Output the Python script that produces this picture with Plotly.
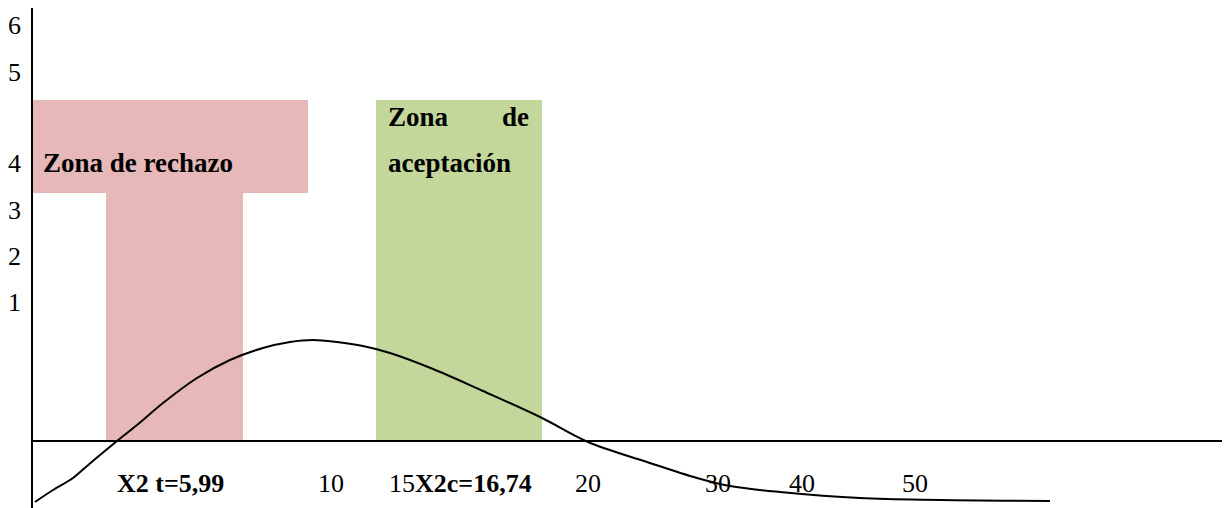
import plotly.graph_objects as go

# ---- data (drawing units: origin at the axes' crossing) ----
curve_x = [3, 21, 41, 55, 68, 85, 105, 131, 165, 198, 231, 258, 281, 305, 331, 358,
           401, 451, 510, 556, 615, 665, 698, 748, 828, 1018]
curve_y = [-61, -49, -37, -25, -14, 0, 16, 38, 63, 81, 93, 99, 101, 99, 95, 88,
           72, 50, 23, -1, -21, -37, -45, -51, -57, -60]

y_tick_text = ["1", "2", "3", "4", "5", "6"]
y_tick_pos = [139, 185, 231, 278, 369, 416]

x_label_text = ["<b>X2 t=5,99</b>", "10", "15<b>X2c=16,74</b>", "20", "30", "40", "50"]
x_label_pos = [138, 299, 355, 556, 686, 770, 883]
x_label_anchor = ["center", "center", "left", "center", "center", "center", "center"]

# rejection zone (T shape) and acceptance zone: [x0, x1, y0, y1]
rechazo_top = [1, 276, 248, 341]
rechazo_stem = [74, 211, 0, 248]
aceptacion = [344, 510, 0, 341]

FONT = "Liberation Serif"
PINK = "#E6B8B7"
GREEN = "#C4D79B"

fig = go.Figure()

shapes = []
for r, c in [(rechazo_top, PINK), (rechazo_stem, PINK), (aceptacion, GREEN)]:
    shapes.append(dict(type="rect", xref="x", yref="y", x0=r[0], x1=r[1], y0=r[2], y1=r[3],
                       fillcolor=c, line=dict(width=0), layer="below"))
# axes lines
shapes.append(dict(type="line", xref="x", yref="y", x0=0, x1=0, y0=-67, y1=433,
                   line=dict(color="black", width=2)))
shapes.append(dict(type="line", xref="x", yref="y", x0=0, x1=1190, y0=0, y1=0,
                   line=dict(color="black", width=2)))

fig.add_trace(go.Scatter(x=curve_x, y=curve_y, mode="lines",
                         line=dict(color="black", width=2, shape="spline", smoothing=1.0),
                         hoverinfo="skip", showlegend=False))

annotations = []
for t, p in zip(y_tick_text, y_tick_pos):
    annotations.append(dict(x=-18, y=p, xref="x", yref="y", text=t, showarrow=False,
                            xanchor="center", yanchor="middle",
                            font=dict(family=FONT, size=26, color="black")))
for t, p, a in zip(x_label_text, x_label_pos, x_label_anchor):
    annotations.append(dict(x=p, y=-42, xref="x", yref="y", text=t, showarrow=False,
                            xanchor=a, yanchor="middle",
                            font=dict(family=FONT, size=26, color="black")))

annotations.append(dict(x=9, y=278, xref="x", yref="y", text="<b>Zona de rechazo</b>",
                        showarrow=False, xanchor="left", yanchor="middle",
                        font=dict(family=FONT, size=27, color="black")))
annotations.append(dict(x=354, y=324, xref="x", yref="y", text="<b>Zona</b>",
                        showarrow=False, xanchor="left", yanchor="middle",
                        font=dict(family=FONT, size=27, color="black")))
annotations.append(dict(x=499, y=324, xref="x", yref="y", text="<b>de</b>",
                        showarrow=False, xanchor="right", yanchor="middle",
                        font=dict(family=FONT, size=27, color="black")))
annotations.append(dict(x=354, y=278, xref="x", yref="y", text="<b>aceptación</b>",
                        showarrow=False, xanchor="left", yanchor="middle",
                        font=dict(family=FONT, size=27, color="black")))

fig.update_layout(
    width=1230, height=508, autosize=False,
    margin=dict(l=0, r=0, t=0, b=0, pad=0),
    paper_bgcolor="white", plot_bgcolor="white",
    xaxis=dict(range=[-32, 1198], visible=False, fixedrange=True),
    yaxis=dict(range=[-67, 441], visible=False, fixedrange=True),
    shapes=shapes, annotations=annotations, showlegend=False,
)

fig.write_html("out.html", config={"displayModeBar": False},
               post_script="document.body.style.margin='0px';document.body.style.overflow='hidden';")
